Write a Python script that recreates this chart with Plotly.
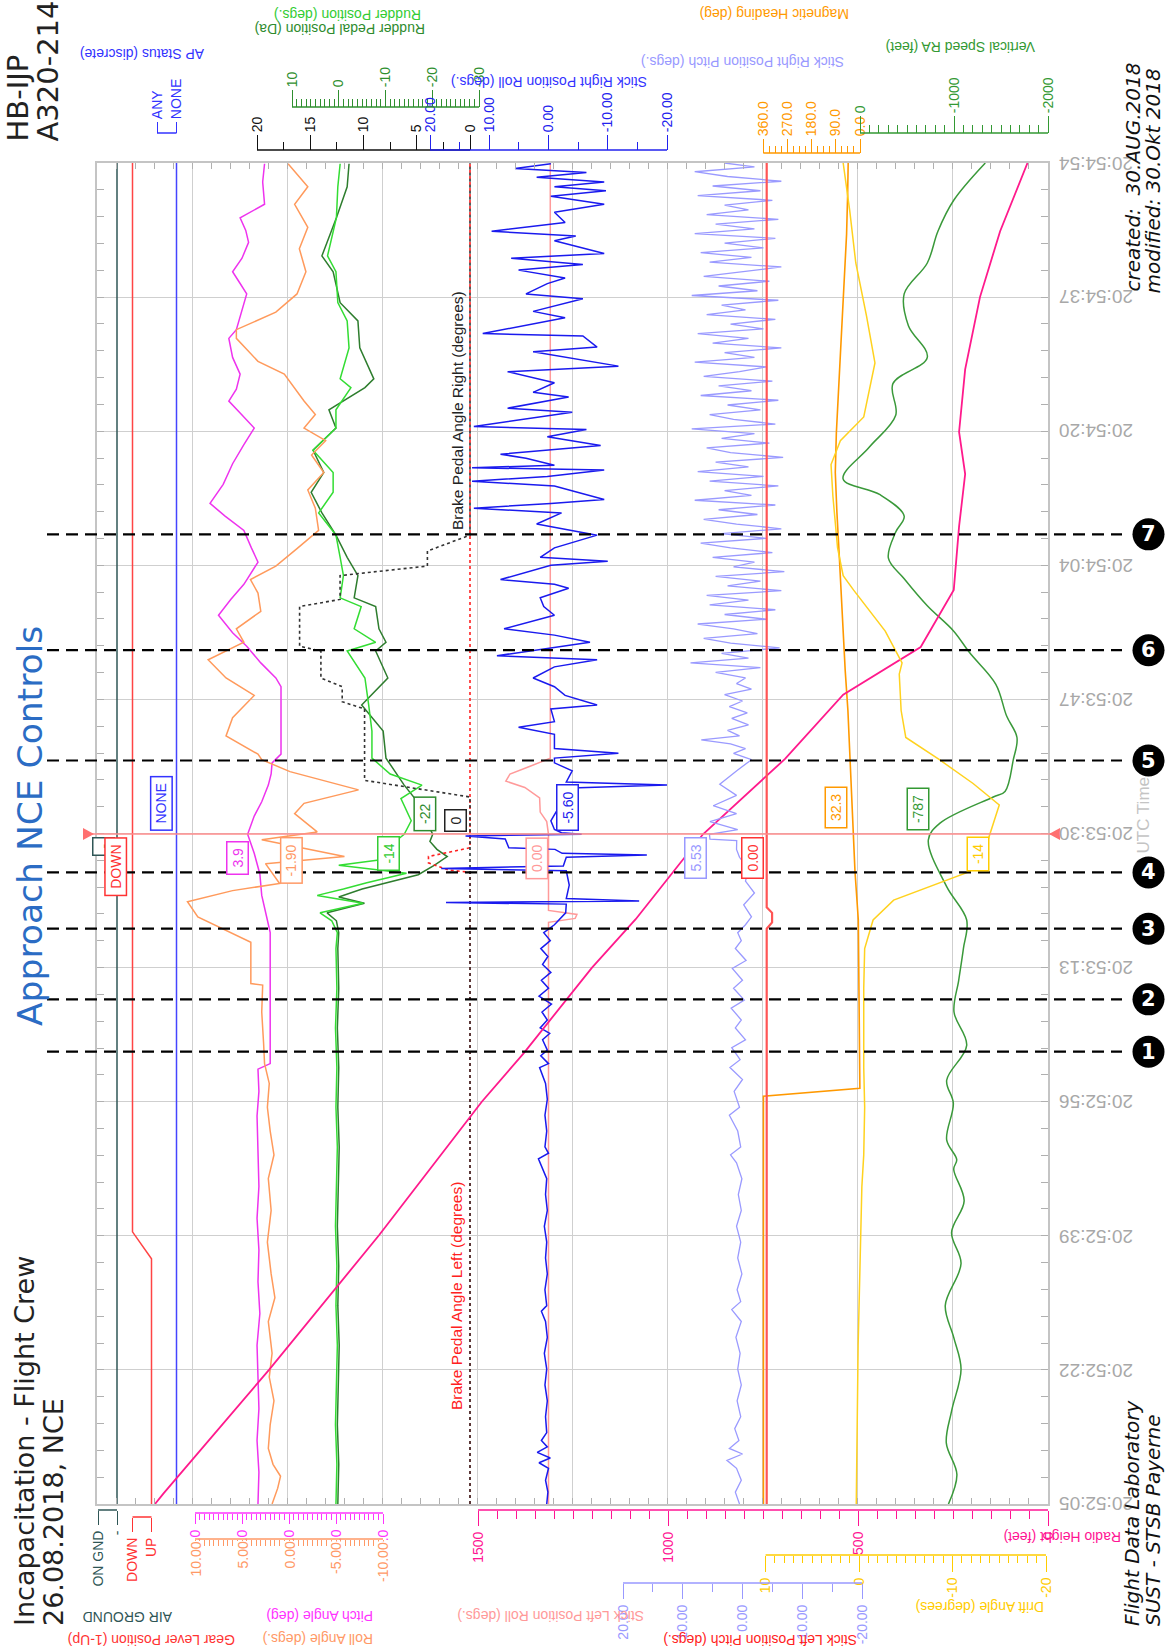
import plotly.graph_objects as go

# ------------------------------------------------------------------ data
TIME_LABELS = ["20:52:05", "20:52:22", "20:52:39", "20:52:56", "20:53:13", "20:53:30",
               "20:53:47", "20:54:04", "20:54:20", "20:54:37", "20:54:54"]
T_END = 169.0  # seconds after 20:52:05

EVENT_NAMES = ["1", "2", "3", "4", "5", "6", "7"]
EVENT_TIMES = [57.0, 63.6, 72.5, 79.6, 93.7, 107.6, 122.2]
CURSOR_TIME = 84.45

# (time s, value)
AP_STATUS = [(0, 0), (169, 0)]            # 1 = ANY, 0 = NONE
AIR_GROUND = [(0, 0), (169, 0)]           # 1 = ON GND, 0 = air
GEAR_LEVER = [(0, 1), (30.9, 1), (34.3, 0), (169, 0)]   # 1 = UP

PITCH = [(0, 3.3), (4, 3.2), (8, 3.4), (12, 3.2), (16, 3.3), (20, 3.4), (24, 3.1), (28, 3.3),
         (32, 3.2), (36, 3.4), (40, 3.2), (44, 3.3), (48.9, 3.4), (52, 3.2), (54.8, 3.3),
         (55.5, 2.0), (60, 2.0), (65, 2.0), (70, 2.0), (72, 2.0), (74.1, 2.4), (76.7, 2.9),
         (79.4, 3.1), (82, 3.7), (84.4, 4.4), (86.7, 3.7), (88.5, 2.9), (90.6, 2.2), (92, 1.9),
         (93.4, 1.8), (94.5, 0.85), (99, 0.85), (103, 0.85), (104.1, 1.4), (106, 3.0),
         (108.1, 4.5), (109.8, 6.0), (112, 7.5), (114, 6.2), (115.9, 4.8), (117.5, 3.9),
         (118.7, 3.3), (120.5, 4.0), (122.7, 4.8), (124.5, 6.8), (126.1, 8.4), (128.5, 7.0),
         (131.1, 6.0), (133.5, 4.8), (135.6, 3.7), (137.5, 5.2), (139, 6.4), (140.5, 5.6),
         (142.4, 5.2), (144.5, 6.0), (146.9, 6.4), (148, 5.6), (150.5, 5.0), (152.5, 4.5),
         (154, 5.3), (155.3, 6.0), (157, 5.0), (159, 4.3), (160.5, 4.6), (162.1, 5.2),
         (163.8, 2.6), (166.6, 2.8), (168.9, 2.6)]

ROLL = [(0, 1.8), (2, 1.2), (3.5, 0.9), (5, 1.7), (7, 2.2), (10, 2.0), (13, 1.6), (16, 2.1),
        (19, 1.8), (23, 2.2), (26, 1.5), (29, 1.9), (33, 2.3), (37, 1.9), (41, 2.2), (44, 1.6),
        (47, 2.0), (50, 2.3), (53, 2.1), (55.5, 2.6), (58, 2.7), (62, 2.9), (65.4, 2.8),
        (65.6, 4.06), (70.8, 4.06), (72.5, 7.0), (74, 9.7), (75.9, 10.8), (77.3, 6.0),
        (78.2, 1.0), (80.7, 2.5), (81.6, -5.9), (83.7, 2.9), (84.7, -3.0), (87, -0.6),
        (88.3, -1.6), (90, -7.4), (92.3, -0.1), (93.8, 2.9), (94.5, 3.3), (96.8, 6.7),
        (99.1, 6.0), (101.9, 3.7), (104.1, 6.7), (106.4, 8.6), (108.6, 4.8), (110.3, 5.6),
        (112.5, 3.0), (114.8, 3.3), (116.5, 4.1), (118.2, 1.4), (120.4, -0.85), (122.7, -3.15),
        (125.5, -2.8), (127.8, -2.0), (130, -3.7), (132.2, -2.4), (134, -3.9), (135.6, -1.6),
        (137.3, -2.8), (139, -1.6), (142.4, 0.5), (144, 3.3), (146.9, 5.6), (148, 5.6),
        (150.2, 1.4), (152.5, -0.85), (155.3, -1.8), (158.2, -1.1), (160.9, -2.0),
        (163.8, -0.6), (166, -2.0), (168.9, 0.1)]

RUDDER = [(0, 0.6), (5, 0.4), (10, 0.7), (15, 0.5), (20, 0.3), (25, 0.6), (30, 0.4), (35, 0.7),
          (40, 0.5), (45, 0.3), (50, 0.6), (55, 0.4), (60, 0.7), (65, 0.4), (70, 0.6), (72, 0.3),
          (73.5, 1.5), (74.5, 4.0), (75.7, -5.2), (76.7, 4.6), (77.5, -1.0), (78.3, -6.0),
          (79.5, -14.5), (80.5, 0.0), (81.2, -9.0), (82.0, -13.0), (83.0, -11.0), (84.4, -14.0),
          (86.1, -15.5), (88.9, -13.3), (90.6, -17.8), (92, -11.0), (94, -7.1), (97.4, -7.1),
          (100.7, -6.4), (104.1, -5.6), (107.5, -1.8), (108.6, -7.9), (110.3, -3.3),
          (113.1, -4.8), (114.2, -0.3), (117, -1.0), (119.3, -0.3), (122.1, 0.6), (124.9, 4.3),
          (127.5, 1.2), (130, 1.2), (132.8, 5.5), (135.6, 0.6), (137.9, 0.6), (140.7, -2.6),
          (141.8, -0.3), (145.7, -2.2), (149.1, -1.8), (151.4, 0.2), (155.3, 0.6), (157.3, 2.4),
          (162.1, 0.5), (166, 0.2), (168.9, -0.3)]

RUDDER_PEDAL = [(0, 0.2), (5, 0.0), (10, 0.3), (15, 0.1), (20, -0.1), (25, 0.2), (30, 0.0),
                (35, 0.3), (40, 0.1), (45, -0.1), (50, 0.2), (55, 0.0), (60, 0.3), (65, 0.0),
                (70, 0.2), (72, 0.0), (73.5, 0.5), (74.5, 2.5), (75.7, -5.5), (76.5, 0.0),
                (77.5, -5.0), (79.3, -17.0), (80.5, -20.5), (81.6, -23.2), (82.5, -21.0),
                (83.5, -19.5), (84.4, -20.1), (86.1, -18.6), (88.9, -16.3), (90.6, -14.0),
                (94, -10.1), (97.4, -9.5), (100.7, -4.9), (104.1, -10.5), (107.5, -7.9),
                (108.6, -10.1), (110.3, -8.6), (113.1, -7.9), (114.2, -3.3), (117, -4.1),
                (119.3, -1.8), (122.1, 0.6), (124.9, 3.6), (127.5, 5.9), (130, 3.2), (132.8, 5.5),
                (135.6, 0.6), (137.9, 2.1), (140.7, -5.6), (141.8, -7.5), (145.7, -4.5),
                (149.1, -4.1), (151.4, -0.3), (155.3, 1.2), (157.3, 3.6), (162.1, 0.5),
                (166, -1.8), (168.9, -2.2)]

BRAKE_RIGHT = [(0, 0), (89.1, 0), (91.2, 9.9), (100.2, 9.9), (101.1, 12.0), (103, 12.0),
               (104.1, 14.0), (107.5, 14.0), (108.1, 16.0), (113.1, 16.0), (114, 12.2),
               (117, 12.2), (117.3, 10.2), (118.2, 4.0), (120.1, 4.0), (122.1, 0), (169, 0)]
BRAKE_LEFT = [(0, 0), (79.6, 0), (79.9, 2.0), (80.8, 3.9), (81.6, 3.9), (82.7, 0), (169, 0)]

STICK_LEFT_ROLL = [(0, 0), (73.3, 0), (73.8, -4.5), (74.3, -4.8), (74.8, 0), (84.4, 0),
                   (86, 0.3), (87.2, 1.4), (89, 1.5), (90.3, 4.0), (91.1, 7.2), (92, 6.5),
                   (93, 3.0), (94, -0.3), (169, -0.3)]

STICK_RIGHT_ROLL = [
    (0, 0.3), (1.5, 0.1), (3, 0.5), (4.5, 0.0), (5.2, 1.6), (5.8, -0.3), (6.5, 1.9), (7.2, 0.2),
    (8, 1.2), (9, 0.3), (11, 0.5), (13, 0.2), (15, 0.6), (17, 0.3), (19, 0.7), (21, 0.2),
    (23, 0.5), (24.3, 1.2), (25, 0.3), (27, 0.6), (29, 0.2), (31, 0.5), (33, 0.3), (35, 0.7),
    (37, 0.2), (39, 0.5), (41, 0.3), (43.5, 1.7), (44.2, 0.0), (45, 0.6), (47, 0.3), (49, 0.6),
    (51, 0.2), (53, 0.5), (55, 1.5), (55.5, 0.0), (56.5, 1.3), (57.2, 0.2), (58.5, 1.0),
    (59.3, -0.2), (60, 1.4), (61, 0.2), (62, 1.1), (63, -0.5), (64, 1.6), (65, 0.0), (66, 1.2),
    (67, -0.4), (68, 1.0), (69, 0.1), (70, 1.3), (71, -0.3), (72, 0.8), (73, -1.0), (74.5, -2.9),
    (75.6, -3.0), (75.8, 17.3), (76.0, -15.3), (76.3, -3.0), (78, -3.5), (79.8, -3.0),
    (80.1, 18.1), (80.4, -2.5), (81.5, -3.0), (81.8, -16.6), (82.0, -2.3), (82.5, -1.1),
    (82.7, 6.7), (83.8, 7.3), (84.2, 14.0), (84.4, -5.6), (84.6, -2.2), (85, -1.0), (86.1, -0.4),
    (88.4, -2.2), (89, -1.6), (90.2, -2.5), (90.6, -20.0), (91.0, -3.0), (92.4, -4.0),
    (93.4, -1.0), (94, -1.0), (94.6, -11.8), (95.2, -1.0), (97, -1.0), (97.9, 5.05), (98.6, -1.0),
    (100.2, -0.4), (100.7, -8.2), (101.9, -2.8), (103, -1.0), (104.1, 2.6), (105.5, -1.0),
    (106.4, -8.2), (106.9, 8.7), (107.8, 0.2), (108.6, -7.0), (109.5, -1.0), (110.3, 7.5),
    (112, -1.0), (113.1, 0.8), (114.2, 1.4), (115.4, -3.4), (115.9, -1.0), (116.5, 8.1),
    (118.3, -0.4), (118.8, -10.0), (119.3, 1.4), (120.5, -1.0), (122.1, -8.2), (123.5, 2.0),
    (124.9, -2.2), (125.5, 12.6), (126.1, -0.4), (126.6, -9.4), (128.3, -1.0), (128.9, 12.9),
    (129.5, 0.2), (130.3, -9.4), (130.6, 12.9), (130.9, -1.0), (131.8, 3.8), (132.3, 8.1),
    (133.4, -8.8), (134.5, 0.2), (135.4, -6.4), (135.8, 12.6), (137.6, -4.0), (138.1, 6.9),
    (139.5, -3.4), (140.1, 2.6), (141.3, -1.0), (142.7, 6.9), (143.4, -11.8), (144.8, -1.0),
    (145.2, 2.6), (145.8, -8.2), (147.2, -5.8), (147.5, 11.1), (149.5, -2.8), (150.3, 2.6),
    (151.9, -5.8), (152.5, 3.8), (153.8, 0.2), (154.5, -2.8), (155.5, 5.05), (156.2, -5.8),
    (157, 6.3), (157.6, -9.4), (159.2, -1.0), (159.8, -4.6), (160.4, 9.6), (161.5, -2.8),
    (162.8, -1.0), (163.8, -9.4), (164.8, -0.4), (165.5, -9.7), (166, -1.0), (166.6, -9.4),
    (167.2, 2.0), (167.8, -6.4), (168.3, 5.65), (168.9, -0.4)]

STICK_RIGHT_PITCH = [
    (0, 0.5), (1.5, 1.2), (3, 0.2), (4.5, 1.0), (5.5, 2.6), (6.3, 0.0), (7, 2.2), (8, 0.6),
    (9.5, 1.3), (11, 0.3), (13, 0.9), (15, 0.2), (17, 0.8), (19, 0.4), (21, 1.1), (23, 0.2),
    (24.5, 1.8), (25.5, 0.3), (27, 0.9), (29, 0.1), (31, 0.8), (33, 0.3), (35, 1.0), (37, 0.2),
    (39, 0.7), (41, 0.1), (43, 1.0), (44, 2.0), (45, 0.3), (47, 0.8), (49, 2.2), (50, 0.5),
    (52, 1.4), (53.5, 0.0), (55, 2.1), (56, 0.4), (57.5, 1.8), (58.5, -0.5), (60, 1.2), (61, 0.2),
    (62.5, 1.9), (63.5, -0.3), (65, 1.5), (66, 0.0), (67.5, 1.7), (68.5, -0.6), (70, 1.2),
    (71, 0.2), (72, 0.8), (73, -0.5), (74, -1.5), (75.5, -0.2), (77, -2.0), (78.5, -0.5),
    (80, -1.0), (81.5, 0.5), (82.5, 1.0), (83.6, 0.97), (83.8, 5.45), (84.4, 5.53), (85, 0.8),
    (86, 5.45), (87, 1.0), (88, 4.9), (89.3, 1.0), (90.7, 3.8), (92.5, 0.8), (93.8, -1.5),
    (94.6, 1.5), (95.2, -0.5), (95.8, 2.0), (96.3, 6.9), (96.8, 0.5), (97.5, 2.5), (98.2, -1.0),
    (99, 1.8), (99.7, -0.8), (100.5, 2.2), (101.2, 0.0), (102, 3.0), (102.7, -1.5), (103.4, 1.0),
    (104.1, -0.5), (104.8, 4.5), (105.4, -3.0), (106, 8.7), (106.6, -1.0), (107.2, 3.5),
    (107.9, -6.2), (108.5, 2.0), (109.1, 6.5), (109.7, -2.5), (110.3, 1.5), (110.9, 7.5),
    (111.5, -4.0), (112.1, 3.0), (112.7, -5.5), (113.3, 5.5), (113.9, -1.0), (114.5, 6.0),
    (115.1, -6.5), (115.7, 2.5), (116.3, -3.0), (116.9, 4.5), (117.5, -7.0), (118.1, 1.5),
    (118.7, -2.0), (119.3, 5.0), (119.9, -5.0), (120.5, 2.0), (121.1, 7.0), (121.7, -4.0),
    (122.3, 3.5), (122.9, -6.5), (123.5, 1.0), (124.1, 6.5), (124.7, -2.5), (125.3, 4.0),
    (125.9, -5.5), (126.5, 8.0), (127.1, -1.5), (127.7, 3.0), (128.3, -6.0), (128.9, 5.5),
    (129.5, -3.5), (130.1, 7.5), (130.7, -1.0), (131.3, 4.5), (131.9, -6.8), (132.5, 2.0),
    (133.1, 6.0), (133.7, -4.5), (134.3, 3.5), (134.9, -2.0), (135.5, 8.5), (136.1, -5.5),
    (136.7, 1.5), (137.3, 5.5), (137.9, -3.0), (138.5, 2.5), (139.1, -6.0), (139.7, 7.0),
    (140.3, -1.5), (140.9, 4.0), (141.5, -5.0), (142.1, 6.5), (142.7, 0.5), (143.3, -4.0),
    (143.9, 8.0), (144.5, -2.0), (145.1, 3.0), (145.7, -6.5), (146.3, 5.0), (146.9, -1.0),
    (147.5, 7.5), (148.1, -3.5), (148.7, 2.0), (149.3, -5.5), (149.9, 6.0), (150.5, -0.5),
    (151.1, 3.5), (151.7, -6.0), (152.3, 8.5), (152.9, -2.5), (153.5, 4.0), (154.1, -4.5),
    (154.7, 6.5), (155.3, 0.0), (155.9, -6.5), (156.5, 5.5), (157.1, -1.5), (157.7, 7.0),
    (158.3, -3.5), (158.9, 3.0), (159.5, -5.5), (160.1, 8.0), (160.7, -2.0), (161.3, 4.5),
    (161.9, -6.0), (162.5, 6.0), (163.1, -1.0), (163.7, 3.0), (164.3, -5.0), (164.9, 7.5),
    (165.5, -3.0), (166.1, 5.0), (166.7, -6.5), (167.3, 2.5), (167.9, 8.0), (168.5, -2.0),
    (169, 3.0)]

STICK_LEFT_PITCH = [(0, 0), (72.5, 0), (73.3, -0.9), (74.5, -0.9), (75.2, 0), (169, 0)]

HEADING = [(0, 359.5), (51.4, 359.5), (52.4, 0.5), (60, 2.0), (66, 4.0), (73.6, 6.3),
           (79.7, 18.6), (84.4, 25.0), (89, 30.0), (93.8, 37.0), (100, 45.0), (105, 55.0),
           (110, 62.0), (115, 70.0), (120, 78.0), (125, 86.0), (130, 92.0), (135, 88.0),
           (140, 80.0), (145, 72.0), (150, 64.0), (155, 57.0), (160, 50.0), (165, 46.0),
           (169, 44.0)]

DRIFT = [(0, 0.3), (20, 0.1), (40, -0.3), (44, -0.5), (50, -0.6), (55, -0.5), (65, -0.5),
         (70, -0.6), (73.6, -1.5), (76.1, -3.7), (79.7, -11.8), (83.7, -13.8), (88.1, -15.0),
         (90.8, -12.2), (93.8, -8.6), (96.6, -5.0), (100, -4.5), (104.6, -4.3), (106, -4.6),
         (110, -2.8), (115.2, 0.6), (117, 1.7), (120.5, 2.3), (127, 2.8), (131, 3.0),
         (134, 2.0), (137, -0.5), (143.8, -1.7), (149.7, -0.8), (156.4, 0.35), (163, 1.0),
         (169, 1.7)]

VERTICAL_SPEED = [(0, -941), (3.7, -1031), (7.7, -918), (11.7, -974), (17, -1075), (21, -997),
                  (25, -907), (30.3, -1075), (34.2, -974), (38.2, -1108), (42.2, -997),
                  (43.4, -1029), (45.9, -922), (50.5, -993), (53.4, -922), (57.8, -1135),
                  (62, -1000), (66, -1050), (70, -1100), (73.6, -1135), (77.8, -922),
                  (83.7, -727), (85.8, -851), (89.1, -1418), (89.8, -1543), (93.8, -1631),
                  (96.6, -1670), (99.3, -1560), (103.3, -1445), (107.3, -1165), (110, -997),
                  (113.2, -716), (116.6, -470), (119.2, -302), (122.5, -380), (124.5, -470),
                  (127.2, -213), (129.2, 180), (133.2, -100), (137.2, -380), (141.2, -350),
                  (144.5, -716), (148.5, -515), (152.5, -470), (156.4, -716), (160.4, -829),
                  (164.3, -997), (169, -1333)]

RADIO_HEIGHT = [(0, 2350), (1.3, 2328), (16.9, 2050), (33.9, 1760), (50.7, 1490), (56.8, 1380),
                (67.6, 1200), (73.7, 1085), (84.4, 908), (93.9, 692), (102, 539), (108, 335),
                (115.2, 248), (123.2, 234), (129.8, 218), (135.1, 234), (143, 218),
                (152.1, 179), (160.4, 126), (169, 54)]

CURSOR_VALUES = ["DOWN", "-", "NONE", "3.9", "-1.90", "-14", "-22", "0", "-5.60", "0.00",
                 "5.53", "0.00", "32.3", "-787", "-14"]

ROLL_TICKS = [10, 5, 0, -5, -10]
ROLL_TICK_TEXT = ["10.00", "5.00", "0.00", "-5.00", "-10.00"]

# ------------------------------------------------------------------ geometry / style
W, H = 1175, 1652
PX_L, PX_R, PY_T, PY_B = 97, 1048, 163, 1504
FONT = "Liberation Sans, Arial, sans-serif"
BIG = "DejaVu Sans, sans-serif"


def px(x):
    return x / W


def py(y):
    return 1 - y / H


def steps(a, b, s):
    n = int(round((b - a) / s))
    return [a + i * s for i in range(n + 1)]


# key: (v1, px1, v2, px2, side, axis-line y, color, tickvals, ticktext, minor, majlen, minlen)
SCALES = {
    "ap": (1, 157, 0, 176.5, "top", 133, "#3333ff", [1, 0], ["ANY", "NONE"], [], 11, 5),
    "rudder": (10, 292, -30, 479, "top", 107, "#2f8f2f", [10, 0, -10, -20, -30],
               ["10", "0", "-10", "-20", "-30"], steps(-30, 10, 1), 17, 8),
    "brake": (20, 257, 0, 470, "top", 150, "#111111", [20, 15, 10, 5, 0],
              ["20", "15", "10", "5", "0"], [17.5, 12.5, 7.5, 2.5], 15, 8),
    "sroll": (20, 430, -20, 667, "top", 150, "#2222ee", [20, 10, 0, -10, -20],
              ["20.00", "10.00", "0.00", "-10.00", "-20.00"], [15, 5, -5, -15], 15, 8),
    "hdg": (360, 763.3, 0, 860, "top", 153, "#ff9900", [360, 270, 180, 90, 0],
            ["360.0", "270.0", "180.0", "90.0", "0.0"], steps(0, 360, 22.5), 14, 7),
    "vs": (0, 860, -2000, 1048, "top", 133, "#339933", [0, -1000, -2000],
           ["0", "-1000", "-2000"], steps(-2000, 0, 100), 17, 8),
    "gnd": (1, 98, 0, 117, "bottom", 1510, "#2f5656", [1, 0], ["ON GND", "-"], [], 14, 6),
    "gear": (0, 132.5, 1, 151.5, "bottom", 1517, "#ff3333", [0, 1], ["DOWN", "UP"], [], 14, 6),
    "pitch": (10, 195, -10, 383, "bottom", 1513, "#ff33ff", [10, 5, 0, -5, -10],
              ["10.0", "5.0", "0.0", "-5.0", "-10.0"], steps(-10, 10, 0.5), 10, 6),
    "roll": (10, 195, -10, 383, "bottom", 1539, "#ff9966", ROLL_TICKS,
             None, steps(-10, 10, 0.5), 10, 6),
    "rh": (1500, 478, 0, 1048, "bottom", 1510, "#ff1493", [1500, 1000, 500, 0],
           ["1500", "1000", "500", "0"], steps(0, 1500, 50), 15, 8),
    "drift": (10, 765.6, -20, 1046, "bottom", 1555, "#ffcc00", [10, 0, -10, -20],
              ["10", "0", "-10", "-20"], steps(-20, 10, 1), 16, 7),
    "spitch": (20, 623, -20, 862, "bottom", 1583, "#9999ff", [20, 10, 0, -10, -20],
               ["20.00", "10.00", "0.00", "-10.00", "-20.00"], [15, 5, -5, -15], 15, 8),
}

fig = go.Figure()
layout_axes = {}
shapes = []
annotations = []
axis_ref = {}

for i, (key, sc) in enumerate(SCALES.items()):
    v1, p1, v2, p2, side, ly, col, tv, tt, mv, majl, minl = sc
    n = i + 2
    axis_ref[key] = "x%d" % n
    slope = (v2 - v1) / (p2 - p1)
    rng = [v1 + (PX_L - p1) * slope, v1 + (PX_R - p1) * slope]
    layout_axes["xaxis%d" % n] = dict(
        overlaying="x", anchor="free", position=py(ly), side=side, range=rng,
        showgrid=False, zeroline=False, showline=False, automargin=False, fixedrange=True,
        tickmode="array", tickvals=tv, ticktext=tt if tt else [""] * len(tv),
        showticklabels=tt is not None, ticks="outside", ticklen=majl,
        tickwidth=1.3, tickcolor=col, tickangle=-90,
        tickfont=dict(family=FONT, size=14, color=col),
        minor=dict(tickmode="array", tickvals=mv, ticks="outside", ticklen=minl,
                   tickwidth=1.2, tickcolor=col, showgrid=False))
    shapes.append(dict(type="line", xref=axis_ref[key], yref="paper", x0=v1, x1=v2,
                       y0=py(ly), y1=py(ly), line=dict(color=col, width=1.5), layer="above"))

# roll tick labels drawn with an opaque background (they cover the pitch labels)
for v, txt in zip(ROLL_TICKS, ROLL_TICK_TEXT):
    annotations.append(dict(text=txt, x=v, xref=axis_ref["roll"], y=py(1541), yref="paper",
                            xanchor="center", yanchor="top", textangle=-90, showarrow=False,
                            bgcolor="white", borderpad=0,
                            font=dict(family=FONT, size=14, color="#ff9966")))

# hidden axis for left stick pitch (offset zero)
n_hidden = len(SCALES) + 2
axis_ref["lpitch"] = "x%d" % n_hidden
s_lp = -20 / (5.975 * 20)
layout_axes["xaxis%d" % n_hidden] = dict(
    overlaying="x", visible=False, range=[(PX_L - 766.7) * s_lp, (PX_R - 766.7) * s_lp])


def add_line(data, key, color, width=1.5, dash=None, shape="linear"):
    t = [p[0] for p in data]
    v = [p[1] for p in data]
    fig.add_trace(go.Scatter(x=v, y=t, xaxis=axis_ref[key], yaxis="y", mode="lines",
                             line=dict(color=color, width=width, dash=dash, shape=shape),
                             hoverinfo="skip", showlegend=False))


# base invisible trace for the grid subplot
fig.add_trace(go.Scatter(x=[0, 10], y=[0, T_END], mode="markers", marker=dict(opacity=0),
                         hoverinfo="skip", showlegend=False))

add_line(AIR_GROUND, "gnd", "#2f5656", 1.5)
add_line(GEAR_LEVER, "gear", "#ff4444", 1.5)
add_line(AP_STATUS, "ap", "#4444ff", 1.5)
add_line(HEADING, "hdg", "#ff9900", 1.6)
add_line(STICK_LEFT_PITCH, "lpitch", "#ff5555", 2.2)
add_line(PITCH, "pitch", "#ee33ee", 1.5)
add_line(ROLL, "roll", "#ff9a5c", 1.5)
add_line(RUDDER_PEDAL, "rudder", "#2e7d2e", 1.5)
add_line(RUDDER, "rudder", "#33dd33", 1.5)
add_line(BRAKE_LEFT, "brake", "#ff2020", 1.6, "dot")
add_line(BRAKE_RIGHT, "brake", "#333333", 1.6, "dot")
add_line(STICK_LEFT_ROLL, "sroll", "#ff9a9a", 1.5)
add_line(STICK_RIGHT_PITCH, "spitch", "#9a9aff", 1.3)
add_line(STICK_RIGHT_ROLL, "sroll", "#1a1aee", 1.5)
add_line(DRIFT, "drift", "#ffd21f", 1.5)
add_line(VERTICAL_SPEED, "vs", "#3a993a", 1.5, shape="spline")
add_line(RADIO_HEIGHT, "rh", "#ff1a8c", 1.8)

# ---------------- cursor, events
shapes.append(dict(type="line", xref="paper", yref="y", x0=px(90), x1=px(1052),
                   y0=CURSOR_TIME, y1=CURSOR_TIME, line=dict(color="#ff8c8c", width=1.5)))
yc = 834
shapes.append(dict(type="path", xref="paper", yref="paper",
                   path="M %f %f L %f %f L %f %f Z" % (px(83), py(yc - 6), px(83), py(yc + 6), px(94), py(yc)),
                   fillcolor="#ff7070", line=dict(width=0)))
shapes.append(dict(type="path", xref="paper", yref="paper",
                   path="M %f %f L %f %f L %f %f Z" % (px(1060), py(yc - 6), px(1060), py(yc + 6), px(1049), py(yc)),
                   fillcolor="#ff7070", line=dict(width=0)))

TICK_T = [T_END / 10 * k for k in range(11)]
for lab, t in zip(TIME_LABELS, TICK_T):
    annotations.append(dict(text=lab, x=px(1057), y=t, xref="paper", yref="y", showarrow=False,
                            xanchor="left", yanchor="middle", textangle=180,
                            font=dict(family=FONT, size=19, color="#a8a8a8")))

for name, t in zip(EVENT_NAMES, EVENT_TIMES):
    shapes.append(dict(type="line", xref="paper", yref="y", x0=px(47), x1=px(1122), y0=t, y1=t,
                       line=dict(color="black", width=2.2, dash="12px,7px")))
    shapes.append(dict(type="circle", xref="paper", yref="y", xsizemode="pixel", ysizemode="pixel",
                       xanchor=px(1148.5), yanchor=t, x0=-16, x1=16, y0=-16, y1=16,
                       fillcolor="black", line=dict(width=0)))
    annotations.append(dict(text="<b>%s</b>" % name, x=px(1148.5), y=t, xref="paper", yref="y",
                            showarrow=False, xanchor="center", yanchor="middle",
                            font=dict(family=BIG, size=21, color="white")))

# ---------------- cursor value boxes
BOX_POS = [(115.7, 866.5, "#ff3333"), (103, 847, "#2f5656"), (161.4, 803.5, "#3333ff"),
           (237, 858, "#ee33ee"), (291.4, 860.5, "#ff9966"), (389, 854, "#33cc33"),
           (425.4, 814, "#2e8b2e"), (455, 821, "#222222"), (567.5, 807.5, "#2222ee"),
           (536.4, 858, "#ff9999"), (695, 858, "#9999ff"), (752, 858, "#ff3333"),
           (836, 807.5, "#ff9900"), (918, 809.5, "#339933"), (978, 854.5, "#ffcc00")]
order = [1, 0] + list(range(2, len(BOX_POS)))
for i in order:
    cx, cy, col = BOX_POS[i]
    annotations.append(dict(text=" %s " % CURSOR_VALUES[i], x=px(cx), y=py(cy), xref="paper",
                            yref="paper", xanchor="center", yanchor="middle", textangle=-90,
                            showarrow=False, font=dict(family=FONT, size=14, color=col),
                            bgcolor="white", bordercolor=col, borderwidth=1.5, borderpad=2))

# ---------------- titles (upside down axis titles)
TITLES = [("AP Status (discrete)", 142, 54, "#3333ff"),
          ("Rudder Position (degs.)", 348, 15, "#33cc33"),
          ("Rudder Pedal Position (Da)", 340, 29, "#2e8b2e"),
          ("Stick Right Position Roll (degs.)", 549, 82, "#3333ff"),
          ("Stick Right Position Pitch (degs.)", 743, 62, "#9999ff"),
          ("Magnetic Heading (deg)", 775, 14, "#ff9900"),
          ("Vertical Speed RA (feet)", 961, 47, "#339933"),
          ("AIR GROUND", 128, 1617, "#2f5656"),
          ("Gear Lever Position (1-Up)", 152, 1640, "#ff3333"),
          ("Pitch Angle (deg)", 320, 1616, "#ff33ff"),
          ("Roll Angle (degs.)", 318, 1639, "#ff9966"),
          ("Radio Height (feet)", 1062, 1537, "#ff1493"),
          ("Drift Angle (degrees)", 980, 1607, "#ffcc00"),
          ("Stick Left Position Roll (degs.)", 551, 1616, "#ff9999"),
          ("Stick Left Position Pitch (degs.)", 760, 1640, "#ff2222")]
for text, x, y, col in TITLES:
    annotations.append(dict(text=text, x=px(x), y=py(y), xref="paper", yref="paper",
                            xanchor="center", yanchor="middle", textangle=180, showarrow=False,
                            font=dict(family=FONT, size=14, color=col)))

# rotated texts (reading bottom to top)
ROT = [("HB-IJP", 17, 144, "bottom", BIG, 29, "#222222", False),
       ("A320-214", 47, 144, "bottom", BIG, 29, "#222222", False),
       ("Incapacitation - Flight Crew", 24, 1628, "bottom", BIG, 27, "#222222", False),
       ("26.08.2018, NCE", 53, 1628, "bottom", BIG, 27, "#222222", False),
       ("Approach NCE Controls", 30, 826, "middle", BIG, 34.5, "#2b6cc4", False),
       ("created:  30.AUG.2018", 1133, 294, "bottom", BIG, 20, "#111111", True),
       ("modified: 30.Okt 2018", 1153, 296, "bottom", BIG, 20, "#111111", True),
       ("Flight Data Laboratory", 1132, 1628, "bottom", BIG, 20, "#111111", True),
       ("SUST - STSB Payerne", 1153, 1628, "bottom", BIG, 20, "#111111", True),
       ("UTC Time", 1143, 856, "bottom", FONT, 17, "#c4c4c4", False),
       ("Brake Pedal Angle Right (degrees)", 457.5, 532, "bottom", FONT, 15.5, "#222222", False),
       ("Brake Pedal Angle Left (degrees)", 456, 1412, "bottom", FONT, 15.5, "#ff2020", False)]
for text, x, y, ya, fam, size, col, ital in ROT:
    annotations.append(dict(text=("<i>%s</i>" % text) if ital else text, x=px(x), y=py(y),
                            xref="paper", yref="paper", xanchor="center", yanchor=ya,
                            textangle=-90, showarrow=False,
                            font=dict(family=fam, size=size, color=col)))

layout_axes["xaxis"] = dict(
    domain=[px(PX_L), px(PX_R)], range=[0, 10], tickmode="array", tickvals=list(range(11)),
    showgrid=True, gridcolor="#cfcfcf", gridwidth=1, showticklabels=False, ticks="inside",
    ticklen=6, tickcolor="#b0b0b0", minor=dict(dtick=0.2, tick0=0, ticks="inside", ticklen=6,
                                               tickcolor="#b0b0b0", showgrid=False),
    showline=True, linecolor="#c4c4c4", linewidth=1.5, mirror="ticks", zeroline=False,
    anchor="y", automargin=False, fixedrange=True)
layout_axes["yaxis"] = dict(
    domain=[py(PY_B), py(PY_T)], range=[0, T_END], tickmode="array", tickvals=TICK_T,
    showticklabels=False, side="right", showgrid=True, gridcolor="#cfcfcf", gridwidth=1,
    ticks="inside", ticklen=7, tickcolor="#b0b0b0",
    minor=dict(dtick=T_END / 50, tick0=0, ticks="inside", ticklen=7, tickcolor="#b0b0b0",
               showgrid=False),
    showline=True, linecolor="#c4c4c4", linewidth=1.5, mirror="ticks", zeroline=False,
    anchor="x", automargin=False, fixedrange=True)

fig.update_layout(width=W, height=H, margin=dict(l=0, r=0, t=0, b=0, pad=0),
                  paper_bgcolor="white", plot_bgcolor="white", showlegend=False,
                  shapes=shapes, annotations=annotations, **layout_axes)

fig.write_html("out.html", config={"displayModeBar": False},
               post_script="document.body.style.margin='0px';document.body.style.padding='0px';")
